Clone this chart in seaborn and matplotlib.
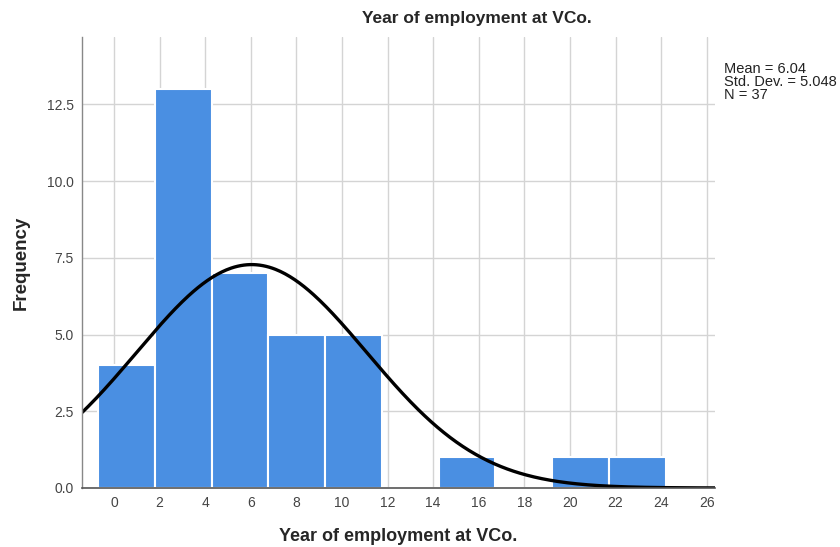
import numpy as np
import pandas as pd
import matplotlib
matplotlib.use("Agg")
import matplotlib.pyplot as plt
import seaborn as sns

# Histogram data
bin_edges = [-0.7, 1.79, 4.28, 6.77, 9.26, 11.75, 14.24, 16.73, 19.22, 21.71, 24.2]
counts = [4, 13, 7, 5, 5, 0, 1, 0, 1, 1]
mean_val = 6.04
std_val = 5.048
n_total = 37

x_ticks = [0, 2, 4, 6, 8, 10, 12, 14, 16, 18, 20, 22, 24, 26]
y_ticks = [0.0, 2.5, 5.0, 7.5, 10.0, 12.5]

mids = [(a + b) / 2 for a, b in zip(bin_edges[:-1], bin_edges[1:])]
df = pd.DataFrame({"years": mids, "count": counts})

sns.set_style("white")
plt.rcParams["font.family"] = ["Liberation Sans", "DejaVu Sans"]

fig = plt.figure(figsize=(8.4, 5.47), dpi=100)
ax = fig.add_axes([0.0976, 0.1079, 0.7536, 0.8245])

# grid behind the bars
ax.set_axisbelow(True)
ax.grid(True, color="#d4d4d4", linewidth=1.0)

sns.histplot(data=df, x="years", weights="count", bins=bin_edges, ax=ax,
             color="#4a8fe2", alpha=1.0, edgecolor="white", linewidth=1.5)

# normal curve scaled to the histogram
bw = bin_edges[1] - bin_edges[0]
xs = np.linspace(-1.4, 26.36, 400)
ys = n_total * bw / (std_val * np.sqrt(2 * np.pi)) * np.exp(-0.5 * ((xs - mean_val) / std_val) ** 2)
ax.plot(xs, ys, color="black", linewidth=2.4, solid_capstyle="butt")

ax.set_xlim(-1.4, 26.36)
ax.set_ylim(0, 14.7)
ax.set_xticks(x_ticks)
ax.set_yticks(y_ticks)
ax.set_yticklabels([f"{v:.1f}" for v in y_ticks])
ax.tick_params(axis="both", length=0, labelsize=10, labelcolor="#444444", pad=6)

for s in ["top", "right"]:
    ax.spines[s].set_visible(False)
ax.spines["left"].set_color("#888888")
ax.spines["bottom"].set_color("#555555")
ax.spines["left"].set_linewidth(1.0)
ax.spines["bottom"].set_linewidth(1.2)

ax.set_xlabel("Year of employment at VCo.", fontsize=13, fontweight="bold", labelpad=13)
ax.set_ylabel("Frequency", fontsize=13.5, fontweight="bold", labelpad=12)

fig.text(0.568, 0.967, "Year of employment at VCo.", ha="center", va="center",
         fontsize=12.5, fontweight="bold")

fig.text(0.862, 0.887, f"Mean = {mean_val:.2f}\nStd. Dev. = {std_val:.3f}\nN = {n_total}",
         ha="left", va="top", fontsize=10.5, linespacing=0.9, color="#222222")

plt.savefig("out.png", dpi=100)
